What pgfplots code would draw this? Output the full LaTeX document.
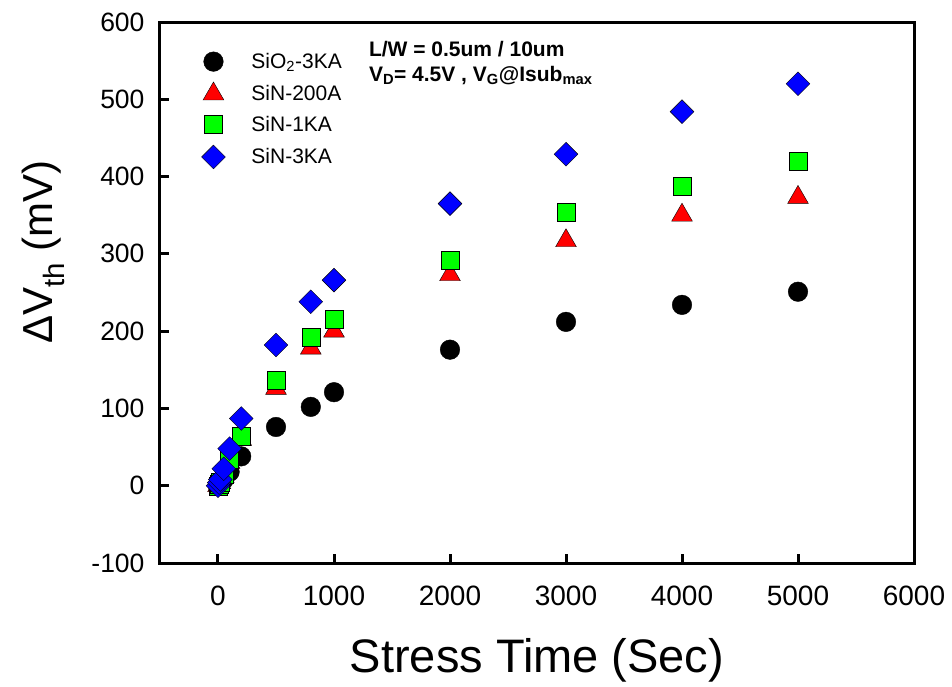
\documentclass[border=0pt]{standalone}
\usepackage{fontspec}
\setmainfont{Liberation Sans}
\usepackage{pgfplots}
\pgfplotsset{compat=1.18}
\definecolor{mblue}{RGB}{0,0,255}
\definecolor{mgreen}{RGB}{0,255,0}
\definecolor{mred}{RGB}{255,0,0}
\begin{document}
\begin{tikzpicture}
\useasboundingbox (-160pt,-124pt) rectangle (792pt,563pt);
\begin{axis}[
  scale only axis, width=754pt, height=541pt,
  at={(0pt,0pt)}, anchor=south west,
  xmin=-500, xmax=6000, ymin=-100, ymax=600,
  xtick={0,1000,...,6000}, ytick={-100,0,...,600},
  tick align=inside, xtick pos=bottom, ytick pos=left,
  major tick length=9pt,
  axis line style={line width=3pt},
  major tick style={line width=3pt, black},
  xticklabel style={font=\fontsize{28}{28}\selectfont, anchor=north, yshift=-19pt},
  yticklabel style={font=\fontsize{26.5}{26.5}\selectfont, xshift=-12pt},
  /pgf/number format/assume math mode=true,
  /pgf/number format/1000 sep={},
  xlabel={Stress Time (Sec)},
  xlabel style={font=\fontsize{47}{47}\selectfont, at={(axis description cs:0.5,-0.2033)}, anchor=base},
  ylabel={ΔV\textsubscript{th} (mV)},
  ylabel style={font=\fontsize{42}{42}\selectfont, at={(axis description cs:-0.1432,0.575)}, anchor=base},
  legend style={at={(axis cs:-170,565)}, anchor=north west, draw=none, fill=none,
    font=\fontsize{21}{21}\selectfont, row sep=10pt},
  legend cell align=left,
  legend image code/.code={\path[draw=none,fill=none] (0pt,-8pt) (48pt,8pt); \draw[#1] plot coordinates {(12pt,0pt)};},
  every axis plot/.append style={only marks, mark options={draw=black, line width=0.8pt}},
]
\addplot[mark=*, mark size=9.8pt, mark options={fill=black}] coordinates {
(0,0) (10,1) (20,3) (50,8) (100,18) (200,38) (500,76) (800,102) (1000,121)
(2000,176) (3000,212) (4000,234) (5000,251)};
\addlegendentry{SiO\textsubscript{2}-3KA}
\addplot[mark=triangle*, mark size=12pt, mark options={fill=mred}] coordinates {
(0,0) (10,2) (20,4) (50,12) (100,30) (200,60) (500,126) (800,178) (1000,200)
(2000,273) (3000,317) (4000,350) (5000,373)};
\addlegendentry{SiN-200A}
\addplot[mark=square*, mark size=9pt, mark options={fill=mgreen}] coordinates {
(0,0) (10,2) (20,5) (50,15) (100,34) (200,64) (500,136) (800,192) (1000,215)
(2000,292) (3000,354) (4000,387) (5000,420)};
\addlegendentry{SiN-1KA}
\addplot[mark=square*, mark size=8.4pt, mark options={fill=mblue, rotate=45}] coordinates {
(0,0) (10,4) (20,8) (50,22) (100,48) (200,87) (500,182) (800,238) (1000,266)
(2000,365) (3000,429) (4000,484) (5000,520)};
\addlegendentry{SiN-3KA}
\node[anchor=north west, align=left, font=\bfseries\fontsize{21}{25}\selectfont, inner sep=0pt]
  at (axis cs:1300,575) {L/W = 0.5um / 10um\\V\textsubscript{D}= 4.5V , V\textsubscript{G}@Isub\textsubscript{max}};
\end{axis}
\end{tikzpicture}
\end{document}
